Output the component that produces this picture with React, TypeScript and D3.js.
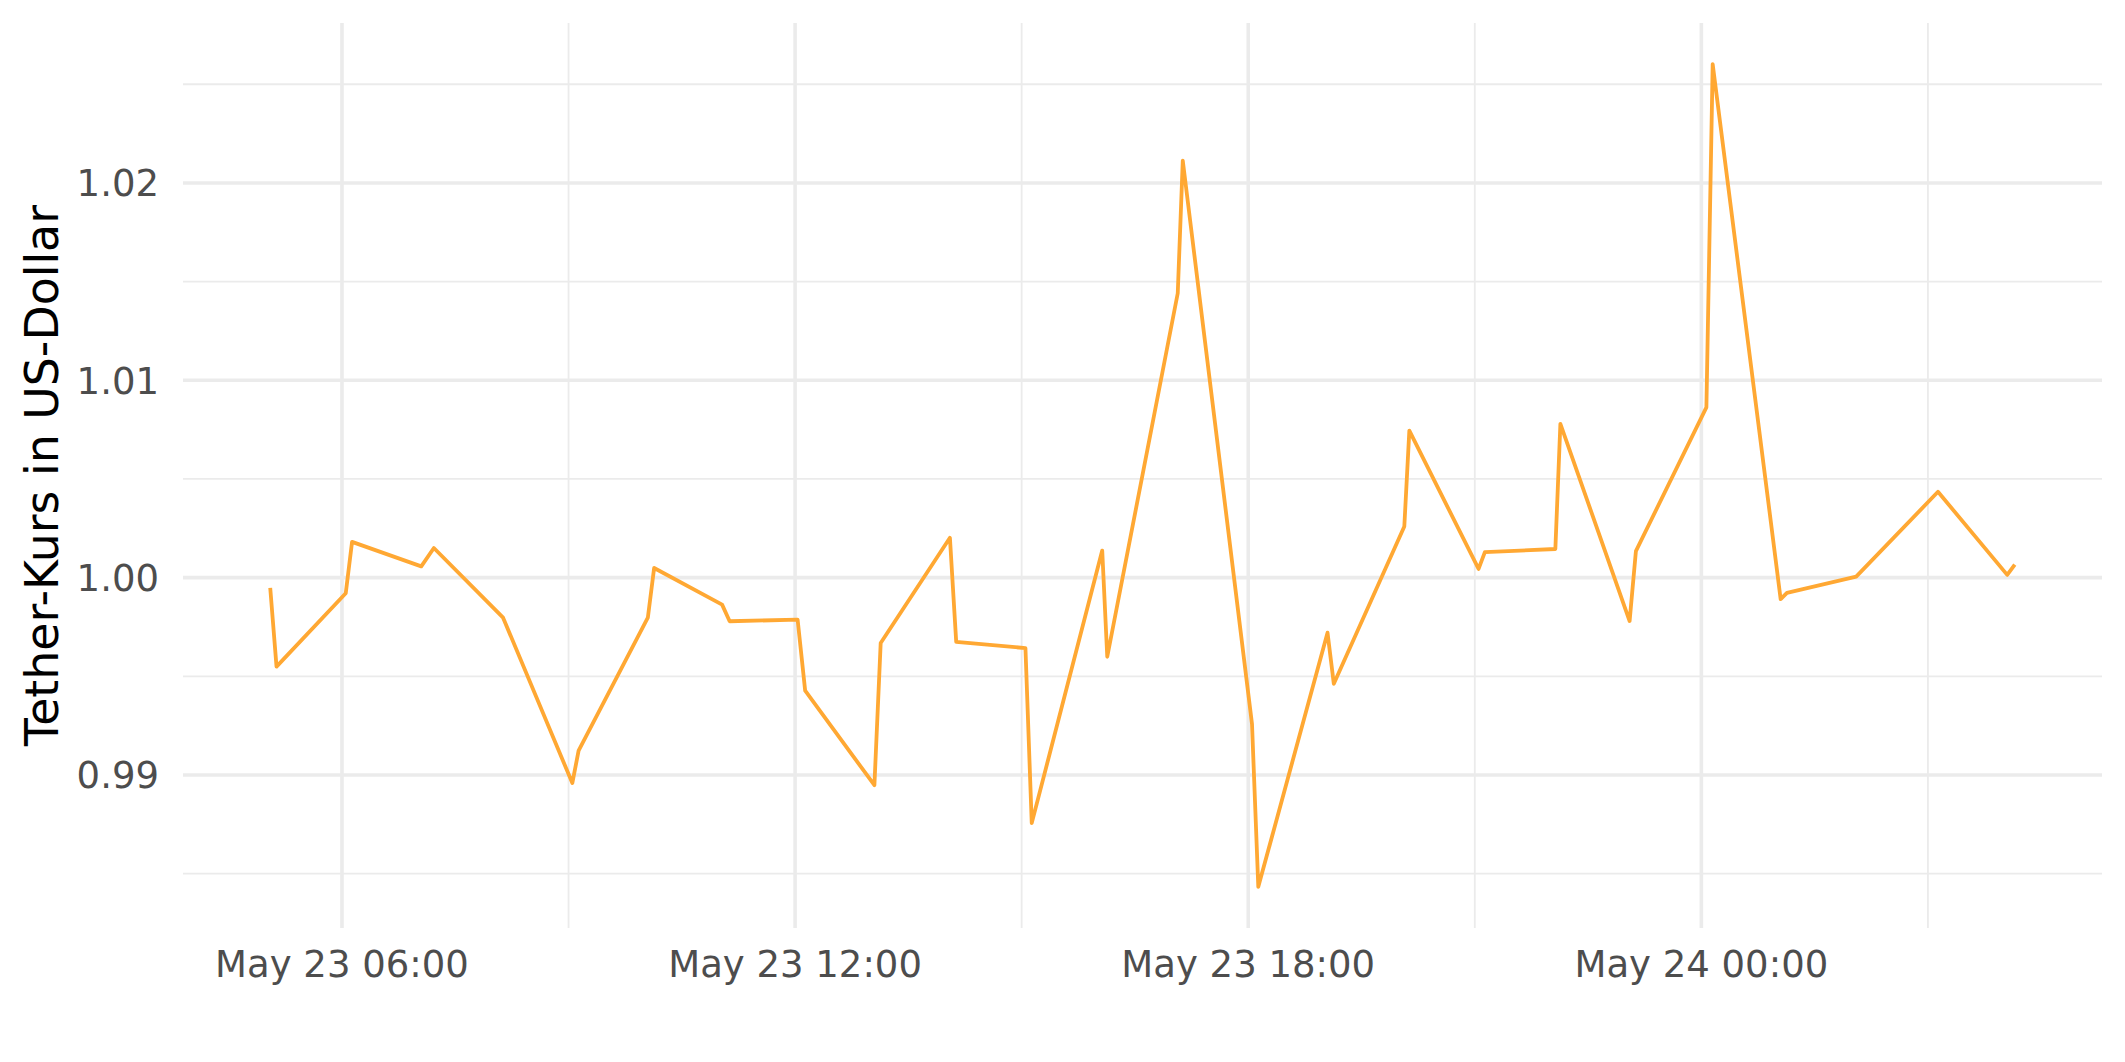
import React from "react";
import * as d3 from "d3";

// Observation times (local) and Tether price in USD
const times: string[] = [
  "2022-05-23T05:03", "2022-05-23T05:08",
  "2022-05-23T06:03", "2022-05-23T06:08",
  "2022-05-23T07:03", "2022-05-23T07:13",
  "2022-05-23T08:08",
  "2022-05-23T09:03", "2022-05-23T09:08",
  "2022-05-23T10:03", "2022-05-23T10:08",
  "2022-05-23T11:02", "2022-05-23T11:08",
  "2022-05-23T12:02", "2022-05-23T12:08",
  "2022-05-23T13:03", "2022-05-23T13:08",
  "2022-05-23T14:03", "2022-05-23T14:08",
  "2022-05-23T15:03", "2022-05-23T15:08",
  "2022-05-23T16:04", "2022-05-23T16:08",
  "2022-05-23T17:04", "2022-05-23T17:08",
  "2022-05-23T18:03", "2022-05-23T18:08",
  "2022-05-23T19:03", "2022-05-23T19:08",
  "2022-05-23T20:04", "2022-05-23T20:08",
  "2022-05-23T21:03", "2022-05-23T21:08",
  "2022-05-23T22:04", "2022-05-23T22:08",
  "2022-05-23T23:03", "2022-05-23T23:08",
  "2022-05-24T00:04", "2022-05-24T00:09",
  "2022-05-24T01:03", "2022-05-24T01:08",
  "2022-05-24T02:03",
  "2022-05-24T03:08",
  "2022-05-24T04:03", "2022-05-24T04:09",
];

const prices: number[] = [
  0.99948, 0.99549,
  0.99921, 1.00181,
  1.00057, 1.00150,
  0.99797,
  0.98959, 0.99123,
  0.99797, 1.00049,
  0.99863, 0.99779,
  0.99787, 0.99427,
  0.98948, 0.99669,
  1.00202, 0.99674,
  0.99643, 0.98756,
  1.00137, 0.99599,
  1.01441, 1.02113,
  0.99258, 0.98433,
  0.99721, 0.99462,
  1.00259, 1.00745,
  1.00044, 1.00129,
  1.00145, 1.00779,
  0.99780, 1.00134,
  1.00863, 1.02602,
  0.99891, 0.99923,
  1.00005,
  1.00435,
  1.00014, 1.00066,
];

const yMajorTicks: number[] = [0.99, 1.0, 1.01, 1.02];
const yMinorTicks: number[] = [0.985, 0.995, 1.005, 1.015, 1.025];
const xMajorTicks: string[] = ["2022-05-23T06:00", "2022-05-23T12:00", "2022-05-23T18:00", "2022-05-24T00:00"];
const xMinorTicks: string[] = ["2022-05-23T09:00", "2022-05-23T15:00", "2022-05-23T21:00", "2022-05-24T03:00"];
const yTitle = "Tether-Kurs in US-Dollar";

const parse = d3.timeParse("%Y-%m-%dT%H:%M");
const fmtX = d3.timeFormat("%b %d %H:%M");

export default function App() {
  const W = 2125, H = 1062;
  const left = 183, right = 2102, top = 23, bottom = 928;

  const data = times.map((t, i) => ({ t: parse(t) as Date, v: prices[i] }));

  const [t0, t1] = d3.extent(data, (d) => d.t.getTime()) as [number, number];
  const tPad = (t1 - t0) * 0.05;
  const x = d3.scaleTime().domain([new Date(t0 - tPad), new Date(t1 + tPad)]).range([left, right]);

  const [v0, v1] = d3.extent(data, (d) => d.v) as [number, number];
  const vPad = (v1 - v0) * 0.05;
  const y = d3.scaleLinear().domain([v0 - vPad, v1 + vPad]).range([bottom, top]);

  const line = d3.line<{ t: Date; v: number }>().x((d) => x(d.t)).y((d) => y(d.v));

  const font = "'DejaVu Sans', Verdana, sans-serif";
  const grid = "#EBEBEB";

  return (
    <svg width={W} height={H} style={{ position: "absolute", left: 0, top: 0, background: "#fff" }}>
      <rect x={0} y={0} width={W} height={H} fill="#fff" />
      {yMinorTicks.map((v) => (
        <line key={"ym" + v} x1={left} x2={right} y1={y(v)} y2={y(v)} stroke={grid} strokeWidth={1.8} />
      ))}
      {xMinorTicks.map((s) => {
        const px = x(parse(s) as Date);
        return <line key={"xm" + s} x1={px} x2={px} y1={top} y2={bottom} stroke={grid} strokeWidth={1.8} />;
      })}
      {yMajorTicks.map((v) => (
        <line key={"yM" + v} x1={left} x2={right} y1={y(v)} y2={y(v)} stroke={grid} strokeWidth={3.6} />
      ))}
      {xMajorTicks.map((s) => {
        const px = x(parse(s) as Date);
        return <line key={"xM" + s} x1={px} x2={px} y1={top} y2={bottom} stroke={grid} strokeWidth={3.6} />;
      })}
      <path d={line(data) || ""} fill="none" stroke="#FFA833" strokeWidth={3.8} strokeLinejoin="round" />
      {yMajorTicks.map((v) => (
        <text key={"yl" + v} x={159} y={y(v)} dy="0.36em" textAnchor="end" fontFamily={font} fontSize={37} fill="#4D4D4D">
          {v.toFixed(2)}
        </text>
      ))}
      {xMajorTicks.map((s) => {
        const d = parse(s) as Date;
        return (
          <text key={"xl" + s} x={x(d)} y={976.5} textAnchor="middle" fontFamily={font} fontSize={37} fill="#4D4D4D">
            {fmtX(d)}
          </text>
        );
      })}
      <text transform={`translate(58, ${(top + bottom) / 2}) rotate(-90)`} textAnchor="middle" fontFamily={font} fontSize={45.8} fill="#000">
        {yTitle}
      </text>
    </svg>
  );
}
